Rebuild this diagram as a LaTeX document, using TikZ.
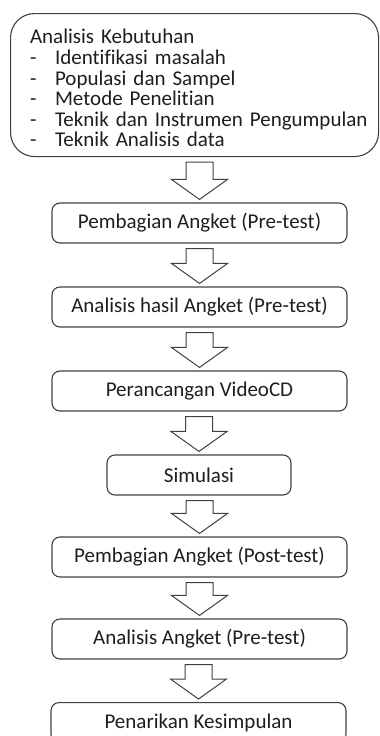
\documentclass[tikz,border=0pt]{standalone}
\usepackage{fontspec}
\setmainfont{Carlito}[Ligatures=NoCommon]
\usetikzlibrary{positioning, calc}

\definecolor{garis}{HTML}{404040}
\definecolor{teks}{HTML}{1E1E1E}

\tikzset{
  kotak/.style={draw=garis, line width=1.1pt, rounded corners=8pt, minimum width=295pt,
    minimum height=40pt, inner sep=0pt, text=teks, font=\fontsize{21}{21.6}\selectfont},
  panahblok/.style={draw=garis, line width=1pt, fill=white, line join=miter}
}

% panah blok dari kotak #1 ke kotak #2
\newcommand{\panah}[2]{%
  \draw[panahblok] ($(#1.south -| #2.north)+(-13.5,5)$) -- ($(#1.south -| #2.north)+(13.5,5)$)
    -- ($(#2.north)+(13.5,-23)$) -- ($(#2.north)+(28,-23)$) -- ($(#2.north)+(0,-3)$)
    -- ($(#2.north)+(-28,-23)$) -- ($(#2.north)+(-13.5,-23)$) -- cycle;}

\begin{document}
\begin{tikzpicture}[x=1pt, y=-1pt]
  \useasboundingbox (0,0) rectangle (380,736);

  % Analisis kebutuhan
  \node[kotak, rounded corners=24pt, minimum width=368pt, minimum height=143pt, anchor=north west,
        align=left, text width=355pt] (analisis) at (10,13) {%
    \rule{0pt}{21pt}\hspace*{13pt}Analisis Kebutuhan\\[-1pt]
    \hspace*{13pt}\makebox[25pt][l]{-}Identifikasi masalah\\[-1pt]
    \hspace*{13pt}\makebox[25pt][l]{-}Populasi dan Sampel\\[-1pt]
    \hspace*{13pt}\makebox[25pt][l]{-}Metode Penelitian\\[-1pt]
    \hspace*{13pt}\makebox[25pt][l]{-}Teknik dan Instrumen Pengumpulan\\[-1pt]
    \hspace*{13pt}\makebox[25pt][l]{-}Teknik Analisis data};

  % Langkah-langkah
  \node[kotak] (angketpre) at (199.5,223) {Pembagian Angket (Pre-test)};
  \node[kotak] (hasilpre) at (199.5,307) {Analisis hasil Angket (Pre-test)};
  \node[kotak] (video) at (199.5,391) {Perancangan VideoCD};
  \node[kotak, minimum width=184pt] (simulasi) at (199,475) {Simulasi};
  \node[kotak] (angketpost) at (199.5,557) {Pembagian Angket (Post-test)};
  \node[kotak] (analisispre) at (199.5,639) {Analisis Angket (Pre-test)};
  \node[kotak, anchor=north] (kesimpulan) at (198.5,702) {Penarikan Kesimpulan};

  % Panah
  \panah{analisis}{angketpre}
  \panah{angketpre}{hasilpre}
  \panah{hasilpre}{video}
  \panah{video}{simulasi}
  \panah{simulasi}{angketpost}
  \panah{angketpost}{analisispre}
  \panah{analisispre}{kesimpulan}
\end{tikzpicture}
\end{document}
